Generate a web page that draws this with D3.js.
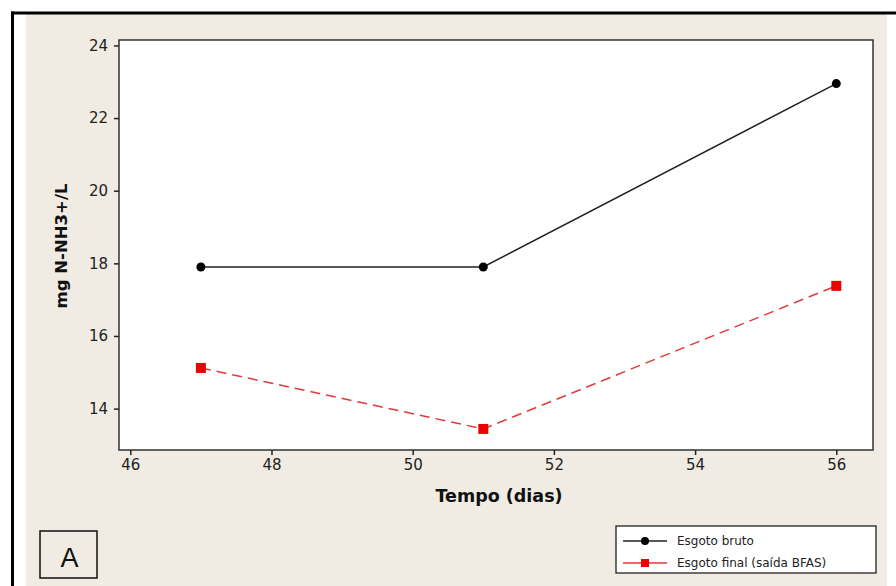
<!DOCTYPE html>
<html>
<head>
<meta charset="utf-8">
<script src="https://cdn.jsdelivr.net/npm/d3@7"></script>
<style>
  html, body { margin: 0; padding: 0; background: #ffffff; }
  svg { display: block; }
</style>
</head>
<body>
<script>
// Ammonia nitrogen over time for raw and treated sewage
const days = [47, 51, 56];
const esgotoBruto = [17.9, 17.9, 22.95];
const esgotoFinal = [15.12, 13.44, 17.38];
const xTicks = [46, 48, 50, 52, 54, 56];
const yTicks = [14, 16, 18, 20, 22, 24];
const seriesNames = ["Esgoto bruto", "Esgoto final (saída BFAS)"];

const W = 896, H = 586;
const plot = { left: 119, top: 40, right: 873, bottom: 450 };

const svg = d3.select("body").append("svg")
  .attr("width", W).attr("height", H);

// page panel with heavy frame on top and left
svg.append("rect").attr("x", 26).attr("y", 14).attr("width", 861).attr("height", H - 14)
  .attr("fill", "#f0ebe3");
svg.append("line").attr("x1", 11).attr("x2", W).attr("y1", 13).attr("y2", 13)
  .attr("stroke", "#000").attr("stroke-width", 3);
svg.append("line").attr("x1", 12.5).attr("x2", 12.5).attr("y1", 11.5).attr("y2", H)
  .attr("stroke", "#000").attr("stroke-width", 3);

const x = d3.scaleLinear().domain([45.84, 56.52]).range([plot.left, plot.right]);
const y = d3.scaleLinear().domain([12.86, 24.15]).range([plot.bottom, plot.top]);

svg.append("rect")
  .attr("x", plot.left).attr("y", plot.top)
  .attr("width", plot.right - plot.left).attr("height", plot.bottom - plot.top)
  .attr("fill", "#ffffff").attr("stroke", "#333").attr("stroke-width", 1.5);

const tickFont = "'DejaVu Sans', Verdana, sans-serif";

const xAxis = svg.append("g").attr("transform", `translate(0,${plot.bottom})`)
  .call(d3.axisBottom(x).tickValues(xTicks).tickSize(5).tickPadding(4).tickFormat(d3.format("d")));
const yAxis = svg.append("g").attr("transform", `translate(${plot.left},0)`)
  .call(d3.axisLeft(y).tickValues(yTicks).tickSize(5).tickPadding(6).tickFormat(d3.format("d")));
[xAxis, yAxis].forEach(g => {
  g.select(".domain").remove();
  g.selectAll(".tick line").attr("stroke", "#222").attr("stroke-width", 1.5);
  g.selectAll(".tick text").attr("fill", "#222").style("font-family", tickFont).style("font-size", "15px");
});

// axis titles
svg.append("text").attr("x", 499).attr("y", 502).attr("text-anchor", "middle")
  .style("font-family", tickFont).style("font-size", "17.5px").style("font-weight", "bold")
  .attr("fill", "#111").text("Tempo (dias)");
svg.append("text").attr("transform", "translate(67,246) rotate(-90)").attr("text-anchor", "middle")
  .style("font-family", tickFont).style("font-size", "16.5px").style("font-weight", "bold")
  .attr("fill", "#111").text("mg N-NH3+/L");

const line = d3.line().x(d => x(d[0])).y(d => y(d[1]));
const brutoPts = days.map((d, i) => [d, esgotoBruto[i]]);
const finalPts = days.map((d, i) => [d, esgotoFinal[i]]);

svg.append("path").datum(brutoPts).attr("d", line)
  .attr("fill", "none").attr("stroke", "#222").attr("stroke-width", 1.5);
svg.append("path").datum(finalPts).attr("d", line)
  .attr("fill", "none").attr("stroke", "#e03a3a").attr("stroke-width", 1.5)
  .attr("stroke-dasharray", "10,6");

svg.selectAll(".pt-bruto").data(brutoPts).enter().append("circle")
  .attr("cx", d => x(d[0])).attr("cy", d => y(d[1])).attr("r", 4.5).attr("fill", "#000");
svg.selectAll(".pt-final").data(finalPts).enter().append("rect")
  .attr("x", d => x(d[0]) - 5).attr("y", d => y(d[1]) - 5)
  .attr("width", 10).attr("height", 10).attr("fill", "#ee0000");

// legend
const lg = svg.append("g");
lg.append("rect").attr("x", 616).attr("y", 526).attr("width", 260).attr("height", 47)
  .attr("fill", "#ffffff").attr("stroke", "#222").attr("stroke-width", 1.3);
const legRows = [
  { name: seriesNames[0], color: "#000", line: "#222", shape: "circle" },
  { name: seriesNames[1], color: "#ee0000", line: "#e03a3a", shape: "square" }
];
legRows.forEach((r, i) => {
  const cy = 541 + i * 22;
  lg.append("line").attr("x1", 623).attr("x2", 667).attr("y1", cy).attr("y2", cy)
    .attr("stroke", r.line).attr("stroke-width", 1.3);
  if (r.shape === "circle") {
    lg.append("circle").attr("cx", 645).attr("cy", cy).attr("r", 4).attr("fill", r.color);
  } else {
    lg.append("rect").attr("x", 641).attr("y", cy - 4).attr("width", 8).attr("height", 8).attr("fill", r.color);
  }
  lg.append("text").attr("x", 677).attr("y", cy + 4)
    .style("font-family", tickFont).style("font-size", "12px").attr("fill", "#222").text(r.name);
});

// panel letter
svg.append("rect").attr("x", 40).attr("y", 531).attr("width", 57).attr("height", 47)
  .attr("fill", "none").attr("stroke", "#111").attr("stroke-width", 1.5);
svg.append("text").attr("x", 69.5).attr("y", 567).attr("text-anchor", "middle")
  .style("font-family", "'Liberation Sans', Arial, sans-serif").style("font-size", "27px")
  .attr("fill", "#111").text("A");
</script>
</body>
</html>
